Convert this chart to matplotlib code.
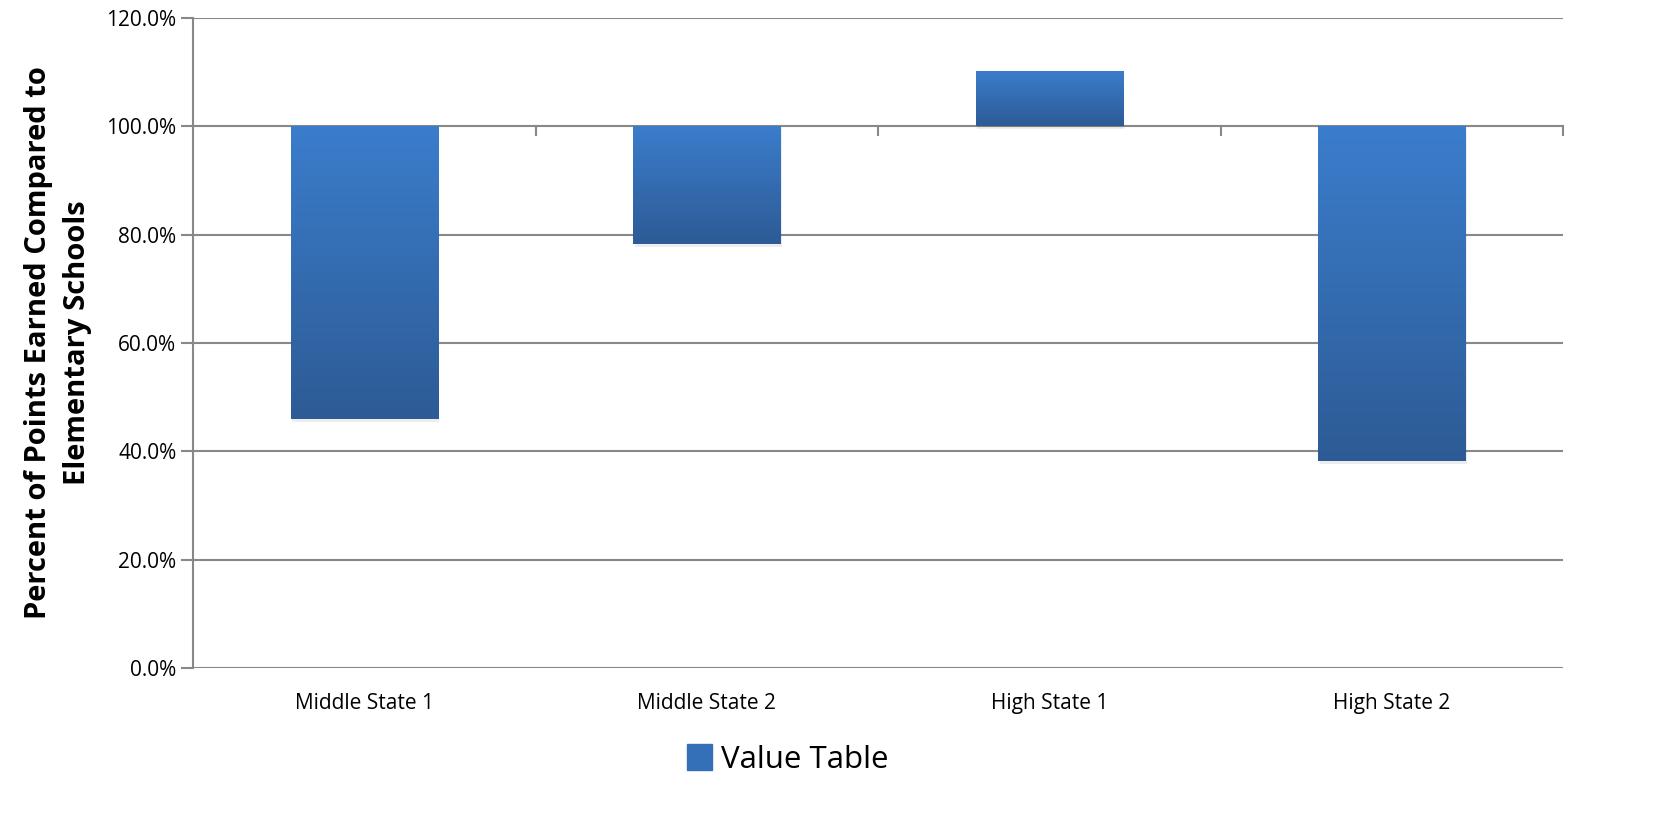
import numpy as np
import matplotlib
matplotlib.use("Agg")
import matplotlib.pyplot as plt
from matplotlib.colors import LinearSegmentedColormap
from matplotlib.ticker import FuncFormatter

plt.rcParams['font.family'] = ['Open Sans', 'DejaVu Sans']

# data
categories = ["Middle State 1", "Middle State 2", "High State 1", "High State 2"]
values = [46.0, 78.2, 110.3, 38.2]   # percent, bars float from the 100% baseline
baseline = 100.0
series_name = "Value Table"

fig = plt.figure(figsize=(16.73, 8.25), dpi=100)
ax = fig.add_axes([0.1154, 0.1903, 0.8189, 0.7879])

x = np.arange(len(categories))
heights = [v - baseline for v in values]
bars = ax.bar(x, heights, bottom=baseline, width=0.43, color="#3472bd",
              edgecolor="none", zorder=3, label=series_name)

# vertical gradient fill, light at top, darker at bottom
cmap = LinearSegmentedColormap.from_list("grad", ["#3b7dcc", "#2d5b95"])
grad = np.linspace(0, 1, 256).reshape(-1, 1)
for b in bars:
    x0, y0 = b.get_x(), b.get_y()
    w, h = b.get_width(), b.get_height()
    ylo, yhi = min(y0, y0 + h), max(y0, y0 + h)
    # soft shadow
    ax.add_patch(plt.Rectangle((x0 + 0.004, ylo - 0.5), w, yhi - ylo, color="#000000",
                               alpha=0.07, zorder=2, lw=0))
    im = ax.imshow(grad, extent=(x0, x0 + w, ylo, yhi), origin="upper", cmap=cmap,
                   aspect="auto", zorder=4, interpolation="bicubic")
    im.set_clip_path(b)
    b.set_facecolor("none")

ax.set_xlim(-0.5, len(categories) - 0.5)
ax.set_ylim(0, 120)
ax.set_yticks(np.arange(0, 121, 20))
ax.yaxis.set_major_formatter(FuncFormatter(lambda v, p: f"{v:.1f}%"))
ax.yaxis.grid(True, color="#888888", linewidth=1.5, zorder=1)
ax.set_axisbelow(True)

ax.set_xticks(x)
ax.set_xticklabels(categories)
ax.tick_params(axis="x", length=0, pad=18, labelsize=15)
ax.tick_params(axis="y", length=9, width=1.5, color="#888888", labelsize=15, pad=3)

for s in ["top", "right", "bottom"]:
    ax.spines[s].set_visible(False)
ax.spines["left"].set_color("#888888")
ax.spines["left"].set_linewidth(1.5)

# category-boundary tick marks on the 100% crossing line
for bx in np.arange(0.5, len(categories), 1.0):
    ax.plot([bx, bx], [baseline, baseline - 1.6], color="#888888", lw=1.5,
            zorder=2, clip_on=False)

ax.set_ylabel("Percent of Points Earned Compared to\nElementary Schools",
              fontsize=21, fontweight="bold", labelpad=10, linespacing=1.45)

leg = fig.legend(handles=[plt.Rectangle((0, 0), 1, 1, color="#3470b8")],
                 labels=[series_name], loc="center", bbox_to_anchor=(0.471, 0.079),
                 frameon=False, fontsize=22.5, handlelength=0.8, handleheight=0.9,
                 handletextpad=0.3)

fig.savefig("out.png", dpi=100, facecolor="white")
